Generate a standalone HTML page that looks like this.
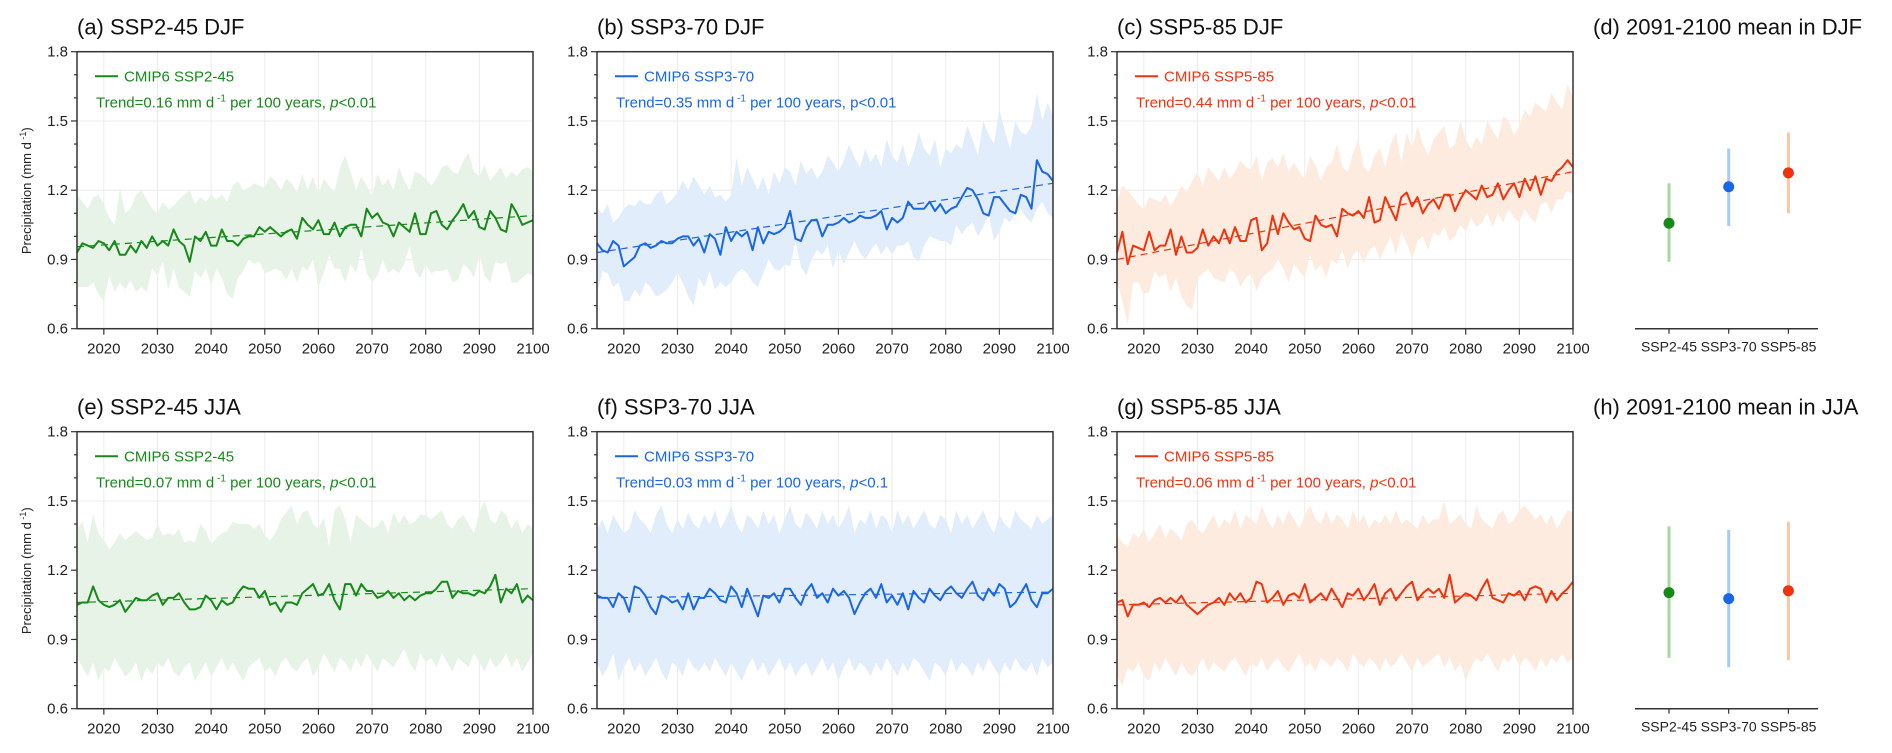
<!DOCTYPE html>
<html><head><meta charset="utf-8">
<style>
html,body{margin:0;padding:0;background:#fff;}
svg{display:block;font-family:"Liberation Sans",Arial,sans-serif;}
</style></head>
<body>
<svg id="fig" width="1892" height="753" viewBox="0 0 1892 753" xmlns="http://www.w3.org/2000/svg"></svg>
<script>
const years = Array.from({length: 86}, (_, i) => 2015 + i);
const yTicks = [0.6, 0.9, 1.2, 1.5, 1.8];
const yTickLabels = ["0.6", "0.9", "1.2", "1.5", "1.8"];
const xTicks = [2020, 2030, 2040, 2050, 2060, 2070, 2080, 2090, 2100];

const aMean = [.93,.97,.96,.95,.98,.97,.94,.98,.92,.92, .96,.93,.98,.95,1.00,.96,.98,.96,1.03,.98, .96,.89,1.00,.98,1.02,.96,.96,1.03,.98,.98, .96,.99,1.00,1.00,1.04,1.02,1.04,1.02,1.00,1.02, 1.03,.99,1.08,1.05,1.03,1.07,1.01,1.01,1.06,1.00, 1.04,1.05,1.05,1.00,1.12,1.08,1.10,1.06,1.05,1.00, 1.06,1.04,1.02,1.10,1.01,1.01,1.10,1.11,1.05,1.03, 1.07,1.10,1.14,1.08,1.11,1.04,1.03,1.11,1.08,1.03, 1.02,1.14,1.10,1.05,1.06,1.07];
const aUpper = [1.18,1.15,1.12,1.17,1.18,1.14,1.08,1.05,1.21,1.10, 1.12,1.18,1.20,1.16,1.12,1.10,1.15,1.12,1.13,1.16, 1.18,1.20,1.14,1.17,1.15,1.18,1.16,1.18,1.15,1.22, 1.24,1.20,1.21,1.23,1.22,1.21,1.26,1.24,1.20,1.25, 1.23,1.19,1.27,1.20,1.26,1.18,1.25,1.22,1.19,1.30, 1.35,1.28,1.20,1.26,1.22,1.17,1.27,1.22,1.25,1.20, 1.30,1.24,1.20,1.28,1.27,1.25,1.22,1.25,1.30,1.31, 1.28,1.27,1.33,1.36,1.28,1.26,1.31,1.24,1.27,1.30, 1.25,1.28,1.26,1.29,1.30,1.28];
const aLower = [.78,.78,.78,.80,.75,.72,.83,.76,.80,.77, .81,.76,.78,.76,.86,.83,.89,.77,.86,.78, .76,.74,.85,.82,.86,.79,.86,.82,.75,.73, .82,.85,.90,.88,.89,.84,.85,.86,.85,.81, .86,.80,.87,.85,.90,.78,.84,.92,.86,.86, .80,.88,.84,.95,.84,.80,.83,.90,.84,.86, .84,.88,.96,.85,.82,.88,.84,.85,.85,.86, .80,.81,.88,.86,.82,.92,.83,.80,.89,.88, .89,.80,.80,.82,.84,.83];

const bMean = [.97,.94,.93,.98,.96,.87,.89,.91,.96,.97, .95,.96,.98,.97,.97,.99,1.00,1.00,.96,.99, .93,1.01,.99,.92,1.04,.98,1.02,1.00,1.02,.94, 1.04,.97,1.02,1.01,1.02,1.04,1.11,.99,.98,1.04, 1.07,1.07,1.00,1.05,1.05,1.06,1.08,1.06,1.07,1.09, 1.08,1.08,1.09,1.11,1.03,1.08,1.06,1.08,1.15,1.12, 1.12,1.12,1.15,1.11,1.14,1.10,1.12,1.13,1.17,1.21, 1.20,1.16,1.10,1.09,1.17,1.17,1.14,1.11,1.10,1.18, 1.17,1.12,1.33,1.28,1.27,1.24];
const bUpper = [1.12,1.10,1.14,1.06,1.08,1.12,1.14,1.13,1.16,1.14, 1.14,1.18,1.20,1.14,1.16,1.19,1.24,1.20,1.26,1.22, 1.18,1.22,1.17,1.18,1.15,1.18,1.34,1.22,1.30,1.25, 1.20,1.26,1.18,1.28,1.23,1.30,1.28,1.22,1.33,1.27, 1.30,1.25,1.28,1.35,1.32,1.28,1.33,1.40,1.34,1.30, 1.38,1.32,1.36,1.30,1.42,1.35,1.32,1.40,1.30,1.36, 1.45,1.38,1.35,1.42,1.30,1.38,1.36,1.40,1.38,1.48, 1.42,1.35,1.50,1.44,1.40,1.55,1.46,1.38,1.50,1.45, 1.44,1.48,1.62,1.50,1.58,1.52];
const bLower = [.75,.85,.84,.78,.80,.72,.72,.77,.74,.80, .78,.74,.75,.77,.80,.84,.80,.74,.70,.82, .78,.85,.77,.80,.78,.80,.84,.86,.84,.80, .78,.84,.90,.86,.85,.88,.87,.98,.87,.83, .90,.94,.92,.96,.86,.94,.88,.93,.98,.93, .90,.94,.97,.92,.96,.92,.96,.96,.98,.91, .89,.96,1.00,.99,.98,.98,.96,1.05,1.01,1.04, 1.06,1.00,1.04,1.10,.98,1.02,1.08,1.06,1.10,1.12, 1.08,1.06,1.12,1.15,1.10,1.08];

const cMean = [.93,1.02,.88,.96,.95,.94,1.02,.94,.96,.96, 1.03,.92,1.00,.93,.93,.95,1.03,.96,1.00,.97, 1.03,.97,1.04,.98,.98,1.07,1.08,.94,.97,1.09, 1.01,1.10,1.06,1.03,1.04,.99,.98,1.09,1.05,1.04, 1.05,1.00,1.12,1.10,1.09,1.11,1.08,1.17,1.06,1.07, 1.17,1.12,1.07,1.17,1.19,1.13,1.17,1.10,1.14,1.16, 1.12,1.18,1.18,1.11,1.16,1.20,1.18,1.16,1.22,1.17, 1.18,1.23,1.16,1.20,1.23,1.17,1.25,1.20,1.26,1.18, 1.25,1.24,1.28,1.30,1.33,1.30];
const cUpper = [1.15,1.22,1.20,1.17,1.14,1.12,1.17,1.16,1.15,1.18, 1.13,1.17,1.22,1.19,1.24,1.28,1.22,1.30,1.27,1.24, 1.30,1.25,1.28,1.33,1.30,1.29,1.35,1.24,1.32,1.34, 1.30,1.36,1.28,1.32,1.28,1.25,1.35,1.31,1.24,1.30, 1.32,1.40,1.30,1.28,1.36,1.42,1.30,1.28,1.35,1.38, 1.30,1.40,1.45,1.32,1.45,1.38,1.48,1.40,1.35,1.42, 1.45,1.48,1.38,1.40,1.50,1.42,1.38,1.43,1.40,1.50, 1.46,1.42,1.52,1.50,1.44,1.48,1.55,1.52,1.58,1.56, 1.54,1.62,1.58,1.55,1.66,1.60];
const cLower = [.80,.72,.62,.80,.80,.75,.76,.85,.82,.84, .76,.82,.74,.70,.68,.82,.84,.86,.82,.81, .80,.86,.84,.78,.82,.84,.76,.82,.84,.86, .90,.86,.80,.88,.85,.82,.92,.85,.88,.82, .90,.88,.94,.86,.92,.94,.88,.94,.96,.90, .95,1.00,.92,1.02,.97,.90,.98,1.00,.94,1.02, 1.00,1.04,.98,1.00,1.05,1.02,1.08,1.04,1.06,1.10, 1.04,1.10,1.06,1.12,1.08,1.06,1.12,1.08,1.06,1.14, 1.15,1.10,1.16,1.16,1.20,1.18];

const eMean = [1.05,1.06,1.06,1.13,1.07,1.05,1.04,1.05,1.07,1.02, 1.05,1.08,1.07,1.07,1.09,1.10,1.05,1.08,1.08,1.10, 1.06,1.03,1.03,1.04,1.09,1.07,1.03,1.07,1.05,1.06, 1.10,1.13,1.12,1.12,1.08,1.11,1.05,1.06,1.02,1.06, 1.06,1.05,1.10,1.12,1.14,1.09,1.10,1.14,1.07,1.03, 1.14,1.14,1.09,1.14,1.11,1.11,1.08,1.09,1.11,1.08, 1.10,1.07,1.09,1.07,1.09,1.10,1.10,1.12,1.15,1.15, 1.08,1.11,1.10,1.10,1.09,1.11,1.10,1.13,1.18,1.06, 1.12,1.10,1.14,1.06,1.09,1.07];
const eUpper = [1.38,1.41,1.32,1.44,1.36,1.33,1.29,1.32,1.36,1.33, 1.35,1.37,1.35,1.33,1.34,1.40,1.35,1.36,1.35,1.38, 1.32,1.33,1.32,1.40,1.37,1.31,1.34,1.36,1.37,1.41, 1.40,1.40,1.40,1.38,1.40,1.35,1.33,1.36,1.42,1.45, 1.48,1.40,1.45,1.46,1.40,1.38,1.43,1.30,1.46,1.48, 1.42,1.32,1.44,1.42,1.40,1.38,1.39,1.42,1.36,1.45, 1.40,1.44,1.40,1.41,1.44,1.44,1.42,1.44,1.46,1.40, 1.38,1.42,1.44,1.40,1.36,1.45,1.50,1.42,1.40,1.46, 1.44,1.38,1.42,1.36,1.40,1.38];
const eLower = [.82,.78,.74,.80,.72,.78,.76,.82,.78,.74, .76,.80,.72,.78,.75,.80,.78,.82,.76,.74, .78,.80,.72,.76,.80,.74,.78,.82,.76,.80, .76,.72,.78,.80,.82,.76,.78,.74,.80,.82, .78,.76,.80,.82,.74,.78,.84,.80,.76,.82, .80,.76,.82,.78,.84,.80,.76,.82,.80,.78, .82,.86,.80,.76,.84,.80,.82,.78,.84,.80, .76,.82,.80,.78,.84,.80,.76,.82,.78,.80, .84,.78,.82,.76,.80,.84];

const fMean = [1.09,1.08,1.08,1.04,1.10,1.08,1.02,1.13,1.12,1.09, 1.04,1.01,1.09,1.08,1.06,1.07,1.03,1.10,1.03,1.08, 1.08,1.12,1.10,1.07,1.06,1.13,1.10,1.04,1.12,1.06, 1.00,1.09,1.08,1.10,1.06,1.12,1.12,1.08,1.05,1.11, 1.14,1.08,1.10,1.06,1.12,1.09,1.11,1.08,1.01,1.06, 1.10,1.12,1.08,1.14,1.06,1.09,1.05,1.10,1.03,1.11, 1.08,1.06,1.12,1.09,1.07,1.11,1.13,1.10,1.08,1.12, 1.15,1.09,1.07,1.12,1.09,1.14,1.12,1.04,1.06,1.10, 1.14,1.07,1.04,1.10,1.10,1.12];
const fUpper = [1.38,1.42,1.36,1.44,1.40,1.36,1.38,1.46,1.42,1.40, 1.36,1.44,1.48,1.40,1.36,1.42,1.38,1.45,1.40,1.38, 1.44,1.40,1.46,1.38,1.42,1.48,1.40,1.36,1.44,1.42, 1.38,1.46,1.40,1.44,1.36,1.42,1.48,1.40,1.38,1.45, 1.42,1.38,1.46,1.40,1.44,1.38,1.42,1.48,1.36,1.42, 1.40,1.46,1.38,1.44,1.42,1.36,1.46,1.40,1.44,1.38, 1.42,1.46,1.40,1.38,1.44,1.42,1.36,1.46,1.40,1.44, 1.38,1.42,1.46,1.40,1.36,1.44,1.40,1.38,1.46,1.42, 1.40,1.38,1.44,1.40,1.42,1.44];
const fLower = [.80,.74,.78,.84,.72,.78,.82,.76,.80,.74, .78,.82,.76,.72,.80,.78,.74,.82,.78,.76, .80,.76,.82,.78,.74,.80,.76,.72,.78,.82, .76,.80,.74,.78,.82,.76,.80,.74,.78,.80, .74,.78,.82,.76,.80,.72,.78,.82,.76,.80, .78,.74,.80,.76,.82,.78,.74,.80,.76,.82, .80,.76,.72,.80,.78,.74,.82,.76,.80,.78, .74,.80,.76,.82,.78,.74,.80,.76,.82,.78, .76,.80,.74,.82,.78,.80];

const gMean = [1.06,1.07,1.00,1.05,1.05,1.06,1.04,1.07,1.08,1.06, 1.08,1.06,1.09,1.05,1.03,1.01,1.03,1.05,1.06,1.08, 1.05,1.10,1.07,1.10,1.06,1.08,1.15,1.14,1.06,1.08, 1.11,1.05,1.09,1.10,1.08,1.14,1.06,1.08,1.10,1.07, 1.12,1.08,1.04,1.10,1.09,1.12,1.07,1.10,1.14,1.05, 1.10,1.12,1.07,1.10,1.13,1.15,1.07,1.10,1.12,1.10, 1.12,1.08,1.18,1.06,1.08,1.10,1.09,1.07,1.12,1.16, 1.08,1.07,1.06,1.10,1.09,1.11,1.07,1.12,1.13,1.12, 1.06,1.11,1.07,1.10,1.12,1.15];
const gUpper = [1.35,1.32,1.30,1.36,1.34,1.38,1.32,1.36,1.40,1.34, 1.38,1.36,1.33,1.40,1.42,1.38,1.36,1.40,1.44,1.38, 1.42,1.40,1.46,1.38,1.44,1.42,1.40,1.48,1.42,1.38, 1.44,1.40,1.46,1.42,1.38,1.44,1.48,1.42,1.40,1.46, 1.40,1.44,1.42,1.38,1.46,1.40,1.44,1.38,1.42,1.40, 1.44,1.40,1.46,1.40,1.42,1.40,1.38,1.44,1.40,1.42, 1.42,1.50,1.40,1.42,1.44,1.40,1.38,1.48,1.42,1.40, 1.38,1.44,1.46,1.40,1.42,1.46,1.48,1.45,1.42,1.44, 1.40,1.44,1.38,1.42,1.46,1.45];
const gLower = [.74,.70,.78,.76,.80,.74,.72,.80,.76,.82, .78,.74,.80,.76,.74,.78,.82,.76,.80,.78, .76,.80,.82,.78,.74,.80,.78,.82,.76,.80, .82,.78,.76,.80,.84,.78,.80,.76,.82,.80, .78,.82,.80,.76,.84,.80,.78,.82,.80,.76, .82,.78,.80,.84,.80,.76,.82,.78,.80,.82, .84,.78,.82,.76,.80,.72,.78,.82,.80,.84, .80,.76,.82,.80,.84,.78,.82,.80,.76,.82, .78,.82,.80,.84,.80,.82];

const trendStart = [0.955, 0.93, 0.90, 1.06, 1.08, 1.05];
const trendEnd = [1.09, 1.23, 1.28, 1.12, 1.105, 1.10];
const trendLabels = ["0.16", "0.35", "0.44", "0.07", "0.03", "0.06"];
const pLabels = ["<0.01", "<0.01", "<0.01", "<0.01", "<0.1", "<0.01"];

const scenarios = ["SSP2-45", "SSP3-70", "SSP5-85"];
const djfMean = [1.057, 1.215, 1.275];
const djfHigh = [1.23, 1.38, 1.45];
const djfLow = [0.89, 1.045, 1.10];
const jjaMean = [1.103, 1.077, 1.111];
const jjaHigh = [1.39, 1.375, 1.41];
const jjaLow = [0.82, 0.78, 0.81];

const NS = "http://www.w3.org/2000/svg";
const svg = document.getElementById("fig");
function mk(tag, attrs, parent) {
  const e = document.createElementNS(NS, tag);
  for (const k in attrs) e.setAttribute(k, attrs[k]);
  (parent || svg).appendChild(e);
  return e;
}
const colors = [
  {line: "#17891a", fill: "#e7f3e6", bar: "#a6d9a0"},
  {line: "#1a66e8", fill: "#e2edfc", bar: "#a9c9fa"},
  {line: "#f0330f", fill: "#fdebdf", bar: "#f8c7a7"}
];
const panelX = [77, 597, 1117];
const panelW = 456;
const rowTop = [51.7, 431.7];
const plotH = 277;
const season = ["DJF", "JJA"];
const letters = [["a","b","c","d"],["e","f","g","h"]];
const series = [
  [[aMean, aUpper, aLower], [bMean, bUpper, bLower], [cMean, cUpper, cLower]],
  [[eMean, eUpper, eLower], [fMean, fUpper, fLower], [gMean, gUpper, gLower]]
];

for (let r = 0; r < 2; r++) {
  const top = rowTop[r], bot = top + plotH;
  const yS = v => bot - (v - 0.6) / 1.2 * plotH;
  for (let p = 0; p < 3; p++) {
    const x0 = panelX[p];
    const xS = yr => x0 + (yr - 2015) / 85 * panelW;
    const col = colors[p];
    const g = mk("g", {});
    
    
    const t = mk("text", {x: x0, y: top - 17, "font-size": 22, fill: "#111"}, g);
    t.textContent = "(" + letters[r][p] + ") " + scenarios[p] + " " + season[r];
    
    
    for (const yt of xTicks) { if (yt < 2100) { const l = mk("line", {x1: xS(yt), x2: xS(yt), y1: top, y2: bot, stroke: "#ececec", "stroke-width": 1}, g);   } }
    for (const v of [0.9, 1.2, 1.5]) { const l = mk("line", {x1: x0, x2: x0 + panelW, y1: yS(v), y2: yS(v), stroke: "#ececec", "stroke-width": 1}, g);   }
    const [mean, up, lo] = series[r][p];
    let d = "";
    up.forEach((v, i) => { d += (i ? "L" : "M") + xS(years[i]).toFixed(1) + "," + yS(v).toFixed(1); });
    for (let i = lo.length - 1; i >= 0; i--) d += "L" + xS(years[i]).toFixed(1) + "," + yS(lo[i]).toFixed(1);
    const band = mk("path", {d: d + "Z", fill: col.fill, stroke: "none"}, g);
    
    
    const idx = r * 3 + p;
    const tr = mk("line", {x1: xS(2015), y1: yS(trendStart[idx]), x2: xS(2100), y2: yS(trendEnd[idx]), stroke: col.line, "stroke-width": 1.2, "stroke-dasharray": "7,5"}, g);
    
    
    const pts = mean.map((v, i) => xS(years[i]).toFixed(1) + "," + yS(v).toFixed(1)).join(" ");
    const ml = mk("polyline", {points: pts, fill: "none", stroke: col.line, "stroke-width": 2, "stroke-linejoin": "round"}, g);
    
    
    const fr = mk("rect", {x: x0, y: top, width: panelW, height: plotH, fill: "none", stroke: "#333", "stroke-width": 1.5}, g);
    
    
    for (let v = 0.6; v <= 1.801; v += 0.1) {
      const major = Math.abs((v * 10) % 3) < 0.01 || Math.abs((v * 10) % 3 - 3) < 0.01;
      mk("line", {x1: x0 - (major ? 6 : 3), x2: x0, y1: yS(v), y2: yS(v), stroke: "#333", "stroke-width": 1.2}, g);
    }
    yTicks.forEach((v, i) => {
      const tl = mk("text", {x: x0 - 9, y: yS(v) + 5, "font-size": 15, "text-anchor": "end", fill: "#222"}, g);
      tl.textContent = yTickLabels[i];
      
      
    });
    xTicks.forEach(yt => {
      mk("line", {x1: xS(yt), x2: xS(yt), y1: bot, y2: bot + 6, stroke: "#333", "stroke-width": 1.2}, g);
      const tl = mk("text", {x: xS(yt), y: bot + 25, "font-size": 15, "text-anchor": "middle", fill: "#222"}, g);
      tl.textContent = yt;
      
      
    });
    const lg = mk("g", {}, g);
    
    
    mk("line", {x1: x0 + 18, x2: x0 + 41, y1: top + 24.5, y2: top + 24.5, stroke: col.line, "stroke-width": 2}, lg);
    const lt = mk("text", {x: x0 + 47, y: top + 30, "font-size": 15, fill: col.line}, lg);
    lt.textContent = "CMIP6 " + scenarios[p];
    const tt = mk("text", {x: x0 + 19, y: top + 56, "font-size": 15, fill: col.line}, g);
    
    
    tt.innerHTML = 'Trend=' + trendLabels[idx] + ' mm d<tspan font-size="10" dy="-6"> -1</tspan><tspan dy="6"> per 100 years, </tspan><tspan font-style="' + (idx === 1 ? 'normal' : 'italic') + '">p</tspan>' + pLabels[idx];
    if (p === 0) {
      const ya = mk("text", {x: 0, y: 0, "font-size": 13, "text-anchor": "middle", fill: "#222", transform: "translate(31," + (top + 139) + ") rotate(-90)"}, g);
      ya.innerHTML = 'Precipitation (mm d<tspan font-size="9" dy="-5"> -1</tspan><tspan dy="5">)</tspan>';
      
      
    }
  }
  const gd = mk("g", {});
  
  
  const td = mk("text", {x: 1593, y: top - 17, "font-size": 22, fill: "#111"}, gd);
  td.textContent = "(" + letters[r][3] + ") 2091-2100 mean in " + season[r];
  
  
  const ax = mk("line", {x1: 1635, x2: 1818, y1: bot, y2: bot, stroke: "#333", "stroke-width": 1.5}, gd);
  
  
  const cx = i => 1669 + i * 59.7;
  const M = r ? jjaMean : djfMean, H = r ? jjaHigh : djfHigh, L = r ? jjaLow : djfLow;
  scenarios.forEach((s, i) => {
    mk("line", {x1: cx(i), x2: cx(i), y1: bot, y2: bot + 5, stroke: "#333", "stroke-width": 1.2}, gd);
    const cl = mk("text", {x: cx(i), y: bot + 23, "font-size": 14, "text-anchor": "middle", fill: "#222"}, gd);
    cl.textContent = s;
    
    
    const eb = mk("line", {x1: cx(i), x2: cx(i), y1: yS(H[i]), y2: yS(L[i]), stroke: colors[i].bar, "stroke-width": 3}, gd);
    
    
    const dot = mk("circle", {cx: cx(i), cy: yS(M[i]), r: 5.5, fill: colors[i].line}, gd);
    
    
  });
}
</script>
</body></html>
